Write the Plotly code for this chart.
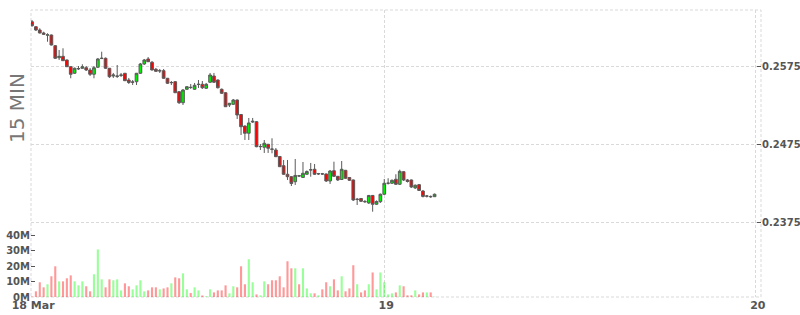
import pandas as pd
import plotly.graph_objects as go

# ---- data (15-minute candles, 18 Mar 01:15 -> 19 Mar 03:15) ----
start_time = "2024-03-18 01:15"
n_candles = 105

open_ = [0.26317, 0.26253, 0.26211, 0.26173, 0.26144, 0.26147, 0.26010, 0.25856, 0.25874, 0.25827,
         0.25741, 0.25657, 0.25712, 0.25721, 0.25728, 0.25699, 0.25644, 0.25734, 0.25845, 0.25849,
         0.25721, 0.25622, 0.25616, 0.25629, 0.25657, 0.25571, 0.25542, 0.25549, 0.25657, 0.25776,
         0.25840, 0.25798, 0.25708, 0.25686, 0.25690, 0.25593, 0.25536, 0.25549, 0.25421, 0.25280,
         0.25452, 0.25478, 0.25452, 0.25513, 0.25516, 0.25465, 0.25542, 0.25622, 0.25571, 0.25452,
         0.25408, 0.25251, 0.25260, 0.25315, 0.25129, 0.24982, 0.24889, 0.25033, 0.25037, 0.24717,
         0.24710, 0.24748, 0.24688, 0.24675, 0.24592, 0.24474, 0.24364, 0.24333, 0.24269, 0.24346,
         0.24323, 0.24364, 0.24419, 0.24428, 0.24368, 0.24370, 0.24368, 0.24278, 0.24410, 0.24338,
         0.24297, 0.24415, 0.24323, 0.24291, 0.24041, 0.24054, 0.24016, 0.23997, 0.24093, 0.23980,
         0.24013, 0.24108, 0.24249, 0.24249, 0.24300, 0.24236, 0.24397, 0.24291, 0.24291, 0.24189,
         0.24231, 0.24150, 0.24084, 0.24080, 0.24077]
high = [0.26339, 0.26262, 0.26233, 0.26189, 0.26169, 0.26153, 0.26019, 0.25955, 0.25977, 0.25833,
        0.25750, 0.25731, 0.25750, 0.25772, 0.25750, 0.25725, 0.25750, 0.25853, 0.25933, 0.25859,
        0.25725, 0.25661, 0.25763, 0.25661, 0.25661, 0.25597, 0.25571, 0.25661, 0.25789, 0.25840,
        0.25865, 0.25814, 0.25725, 0.25712, 0.25712, 0.25597, 0.25558, 0.25558, 0.25430, 0.25456,
        0.25494, 0.25520, 0.25533, 0.25571, 0.25558, 0.25533, 0.25661, 0.25661, 0.25577, 0.25462,
        0.25417, 0.25277, 0.25328, 0.25321, 0.25136, 0.24989, 0.25085, 0.25085, 0.25046, 0.24752,
        0.24803, 0.24752, 0.24825, 0.24700, 0.24598, 0.24547, 0.24547, 0.24342, 0.24560, 0.24355,
        0.24521, 0.24413, 0.24509, 0.24496, 0.24381, 0.24381, 0.24374, 0.24419, 0.24525, 0.24342,
        0.24534, 0.24419, 0.24329, 0.24297, 0.24061, 0.24061, 0.24035, 0.24099, 0.24099, 0.24029,
        0.24118, 0.24304, 0.24313, 0.24297, 0.24364, 0.24423, 0.24406, 0.24304, 0.24297, 0.24233,
        0.24240, 0.24163, 0.24099, 0.24093, 0.24118]
low = [0.26253, 0.26198, 0.26166, 0.26147, 0.26061, 0.26013, 0.25840, 0.25827, 0.25814, 0.25737,
       0.25593, 0.25648, 0.25699, 0.25712, 0.25686, 0.25622, 0.25593, 0.25725, 0.25840, 0.25712,
       0.25597, 0.25597, 0.25597, 0.25609, 0.25558, 0.25520, 0.25507, 0.25507, 0.25648, 0.25763,
       0.25801, 0.25693, 0.25673, 0.25661, 0.25584, 0.25520, 0.25507, 0.25405, 0.25264, 0.25251,
       0.25443, 0.25456, 0.25443, 0.25469, 0.25456, 0.25456, 0.25533, 0.25533, 0.25462, 0.25392,
       0.25225, 0.25225, 0.25251, 0.25072, 0.24867, 0.24803, 0.24803, 0.25021, 0.24710, 0.24675,
       0.24637, 0.24637, 0.24633, 0.24585, 0.24457, 0.24355, 0.24291, 0.24214, 0.24227, 0.24329,
       0.24317, 0.24355, 0.24333, 0.24355, 0.24355, 0.24355, 0.24265, 0.24240, 0.24329, 0.24278,
       0.24291, 0.24304, 0.24278, 0.24022, 0.23971, 0.24009, 0.23997, 0.23984, 0.23885, 0.23971,
       0.23997, 0.24099, 0.24233, 0.24240, 0.24227, 0.24227, 0.24278, 0.24259, 0.24189, 0.24176,
       0.24150, 0.24067, 0.24067, 0.24061, 0.24073]
close = [0.26266, 0.26211, 0.26173, 0.26156, 0.26150, 0.26019, 0.25849, 0.25874, 0.25818, 0.25741,
         0.25644, 0.25721, 0.25718, 0.25741, 0.25699, 0.25644, 0.25728, 0.25840, 0.25849, 0.25721,
         0.25613, 0.25635, 0.25622, 0.25635, 0.25562, 0.25539, 0.25545, 0.25657, 0.25776, 0.25827,
         0.25805, 0.25699, 0.25682, 0.25690, 0.25593, 0.25529, 0.25539, 0.25408, 0.25280, 0.25443,
         0.25485, 0.25475, 0.25503, 0.25516, 0.25472, 0.25516, 0.25635, 0.25542, 0.25472, 0.25401,
         0.25229, 0.25273, 0.25315, 0.25123, 0.24973, 0.24889, 0.25021, 0.25042, 0.24717, 0.24720,
         0.24761, 0.24697, 0.24684, 0.24589, 0.24461, 0.24364, 0.24333, 0.24246, 0.24349, 0.24342,
         0.24377, 0.24400, 0.24422, 0.24364, 0.24372, 0.24368, 0.24278, 0.24406, 0.24338, 0.24291,
         0.24428, 0.24313, 0.24287, 0.24035, 0.24044, 0.24018, 0.24013, 0.24093, 0.23980, 0.24016,
         0.24108, 0.24249, 0.24250, 0.24287, 0.24236, 0.24402, 0.24291, 0.24272, 0.24201, 0.24224,
         0.24157, 0.24080, 0.24086, 0.24077, 0.24108]
volume_m = [0.3, 3.7, 9.6, 6.3, 8.3, 13.5, 20.0, 10.2, 10.2, 12.2,
            14.1, 10.2, 7.6, 10.2, 7.0, 3.7, 14.8, 31.0, 11.5, 6.3,
            11.5, 10.9, 11.5, 4.3, 8.9, 7.0, 5.0, 7.6, 10.9, 3.7,
            4.3, 6.3, 6.3, 5.0, 5.6, 6.3, 8.9, 12.8, 12.2, 15.4,
            5.0, 2.6, 6.3, 4.3, 1.0, 0.5, 5.0, 3.0, 4.3, 4.3,
            7.6, 2.4, 7.0, 6.3, 20.0, 8.3, 24.6, 9.6, 1.7, 1.1,
            10.2, 8.3, 10.9, 10.9, 13.5, 6.3, 23.3, 18.7, 18.7, 8.3,
            18.7, 5.6, 2.4, 2.4, 1.1, 5.0, 9.6, 7.0, 11.5, 4.3,
            13.5, 3.7, 5.6, 20.7, 8.3, 3.0, 4.3, 8.3, 16.0, 5.0,
            16.0, 9.6, 1.7, 2.4, 3.0, 7.6, 7.0, 1.1, 1.1, 4.3,
            1.7, 3.0, 3.0, 3.0, 0.2]

x_range = ["2024-03-18 01:11", "2024-03-20 00:20"]
x_tickvals = ["2024-03-18 01:11:30", "2024-03-19 00:00", "2024-03-20 00:00"]
x_ticktext = ["18 Mar", "19", "20"]
price_ticks = [0.2375, 0.2475, 0.2575]
price_range = [0.22793, 0.26467]
vol_ticks = [0, 10e6, 20e6, 30e6, 40e6]
vol_ticktext = ["0M", "10M", "20M", "30M", "40M"]
vol_range = [0, 187e6]

# ---- figure ----
times = pd.date_range(start_time, periods=n_candles, freq="15min")
volume = [v * 1e6 for v in volume_m]
up = [c >= o for o, c in zip(open_, close)]
vol_colors = ["rgba(0,255,0,0.4)" if u else "rgba(255,0,0,0.4)" for u in up]

GRID = "#d9d9d9"
DASH = "3px,2px"
TXT = "#555555"
FONT = "DejaVu Sans"

fig = go.Figure()
fig.add_trace(go.Bar(x=times, y=volume, marker=dict(color=vol_colors, line=dict(width=0)),
                     yaxis="y", hoverinfo="skip"))
fig.add_trace(go.Candlestick(
    x=times, open=open_, high=high, low=low, close=close, yaxis="y2",
    increasing=dict(fillcolor="#00ee00", line=dict(color="#5a5a5a", width=1)),
    decreasing=dict(fillcolor="#ff0000", line=dict(color="#5a5a5a", width=1)),
    whiskerwidth=0,
))

fig.update_layout(
    width=800, height=315,
    margin=dict(l=31, r=39, t=10, b=18),
    paper_bgcolor="white", plot_bgcolor="white",
    showlegend=False,
    bargap=0.45,
    boxgap=0.0,
    xaxis=dict(
        type="date", range=x_range, tickvals=x_tickvals, ticktext=x_ticktext,
        showgrid=True, gridcolor=GRID, griddash=DASH, gridwidth=1,
        zeroline=False, showline=False, ticks="", automargin=False,
        tickfont=dict(family=FONT, size=11, color=TXT, weight="bold"),
        rangeslider=dict(visible=False), ticklabelshift=2,
    ),
    yaxis=dict(
        range=vol_range, tickvals=vol_ticks, ticktext=vol_ticktext,
        showgrid=False, zeroline=False, showline=False, automargin=False,
        ticks="inside", ticklen=4, tickcolor=TXT, tickwidth=1,
        tickfont=dict(family=FONT, size=10, color=TXT, weight="bold"),
    ),
    yaxis2=dict(
        overlaying="y", side="right", range=price_range, tickvals=price_ticks,
        tickformat=".4f", automargin=False,
        showgrid=True, gridcolor=GRID, griddash=DASH, gridwidth=1,
        zeroline=False, showline=False,
        ticks="inside", ticklen=4, tickcolor=TXT, tickwidth=1,
        tickfont=dict(family=FONT, size=10, color=TXT, weight="bold"),
    ),
    shapes=[dict(type="rect", xref="paper", yref="paper", x0=0, x1=1, y0=0, y1=1,
                 line=dict(color=GRID, width=1, dash=DASH), layer="below")],
    annotations=[dict(text="15 MIN", xref="paper", yref="paper", x=-0.02, y=0.66,
                      xanchor="center", yanchor="middle", textangle=-90, showarrow=False,
                      font=dict(family=FONT, size=20, color="#777777"))],
)

fig.write_html("out.html")
